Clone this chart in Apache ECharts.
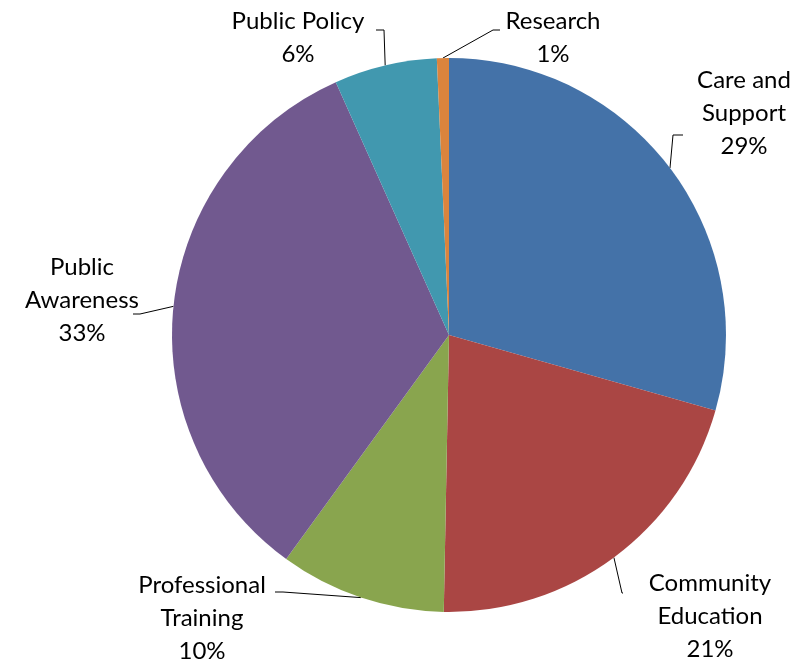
<!DOCTYPE html>
<html>
<head>
<meta charset="utf-8">
<script src="https://cdn.jsdelivr.net/npm/echarts@6/dist/echarts.min.js"></script>
<style>html,body{margin:0;padding:0;background:#fff;}#c{width:809px;height:664px;}</style>
</head>
<body>
<div id="c"></div>
<script>
const categories = ['Care and Support', 'Community Education', 'Professional Training', 'Public Awareness', 'Public Policy', 'Research'];
const values = [29.4, 20.9, 9.7, 33.3, 6.0, 0.7];
const colors = ['#4472A8', '#AA4644', '#89A54E', '#71598F', '#4198AF', '#DB843D'];
const labelText = ['Care and\nSupport', 'Community\nEducation', 'Professional\nTraining', 'Public\nAwareness', 'Public Policy', 'Research'];

// label block centres and leader-line bends (layout only)
const labelPos = [[744, 113], [710, 616], [202, 618], [82, 300], [298, 38], [553, 38]];
const leaderBends = [
  [[673, 135], [683, 135]],
  [[622, 593], [623, 593]],
  [[283, 592], [275, 592]],
  [[140, 314], [133, 314]],
  [[384, 30], [376, 30]],
  [[493, 30], [500, 30]]
];

const chart = echarts.init(document.getElementById('c'), null, {renderer: 'canvas'});
chart.setOption({
  backgroundColor: '#fff',
  animation: false,
  series: [{
    type: 'pie',
    center: [449, 335],
    radius: 277,
    startAngle: 90,
    clockwise: true,
    data: categories.map((c, i) => ({name: c, value: values[i], itemStyle: {color: colors[i]}})),
    itemStyle: {borderWidth: 0},
    label: {
      show: true,
      position: 'outside',
      color: '#000',
      fontFamily: 'Lato',
      fontSize: 24,
      lineHeight: 33,
      align: 'center',
      overflow: 'none',
      edgeDistance: 0,
      formatter: p => labelText[p.dataIndex] + '\n' + Math.round(p.percent) + '%'
    },
    labelLine: {show: true, length: 20, length2: 15, lineStyle: {color: '#000', width: 1}},
    labelLayout: function (params) {
      const i = params.dataIndex;
      const pos = labelPos[i];
      const start = params.labelLinePoints ? params.labelLinePoints[0] : null;
      const out = {x: pos[0], y: pos[1], align: 'center', verticalAlign: 'middle'};
      if (start) out.labelLinePoints = [start, leaderBends[i][0], leaderBends[i][1]];
      return out;
    }
  }]
});
</script>
</body>
</html>
